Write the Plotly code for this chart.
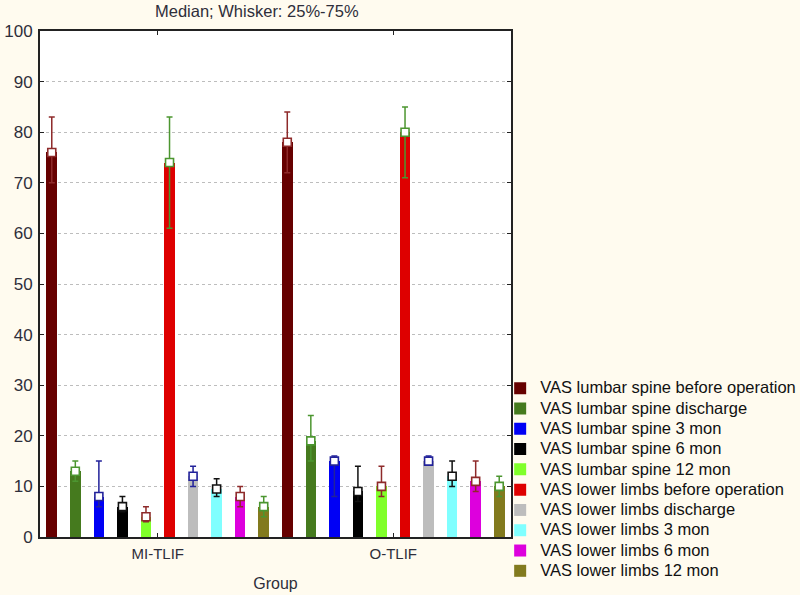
import plotly.graph_objects as go

# ==================== DATA ====================
GROUPS = ["MI-TLIF", "O-TLIF"]

SERIES = [
    "VAS lumbar spine before operation",
    "VAS lumbar spine discharge",
    "VAS lumbar spine 3 mon",
    "VAS lumbar spine 6 mon",
    "VAS lumbar spine 12 mon",
    "VAS lower limbs before operation",
    "VAS lower limbs discharge",
    "VAS lower limbs 3 mon",
    "VAS lower limbs 6 mon",
    "VAS lower limbs 12 mon",
]

# medians per series: [MI-TLIF, O-TLIF]
MEDIAN = [
    [76, 78], [13, 19], [8, 15], [6, 9], [4, 10],
    [74, 80], [12, 15], [9.5, 12], [8, 11], [6, 10],
]
Q25 = [
    [70, 72], [11, 15], [6, 8], [5, 7], [3, 8],
    [61, 71], [10, 14.5], [8, 10], [6, 9], [4, 8],
]
Q75 = [
    [83, 84], [15, 24], [15, 16], [8, 14], [6, 14],
    [83, 85], [14, 16], [11.5, 15], [10, 15], [8, 12],
]

BAR_COLORS = [
    "#660000", "#457A1E", "#0000F5", "#000000", "#80FF2A",
    "#DE0000", "#BDBDBD", "#80FFFF", "#DD00DD", "#827A1E",
]
WHISKER_COLORS = [
    "#8E2A2A", "#4C9630", "#22229A", "#111111", "#8E2A2A",
    "#4C9630", "#22229A", "#111111", "#8E2A2A", "#4C9630",
]

# ==================== THEME ====================
PAPER_BG = "#FFFBEF"
TEXT_COLOR = "#2E2E3A"
FONT = "Arial, Liberation Sans, sans-serif"

SLOT = 0.1
BAR_WIDTH = 0.045

fig = go.Figure()

for i, name in enumerate(SERIES):
    xs = [g + (i - 4.5) * SLOT for g in range(len(GROUPS))]
    fig.add_trace(go.Bar(
        x=xs,
        y=MEDIAN[i],
        width=BAR_WIDTH,
        # larger text inside a compact legend row
        name=f"<span style='font-size:16.5px'>{name}</span>",
        marker=dict(color=BAR_COLORS[i], line=dict(width=0)),
        legendgroup=name,
    ))

for i, name in enumerate(SERIES):
    xs = [g + (i - 4.5) * SLOT for g in range(len(GROUPS))]
    plus = [hi - m for hi, m in zip(Q75[i], MEDIAN[i])]
    minus = [m - lo for m, lo in zip(MEDIAN[i], Q25[i])]
    fig.add_trace(go.Scatter(
        x=xs,
        y=MEDIAN[i],
        mode="markers",
        name=name,
        legendgroup=name,
        showlegend=False,
        marker=dict(symbol="square", size=8, color="white",
                    line=dict(color=WHISKER_COLORS[i], width=1.6)),
        error_y=dict(type="data", symmetric=False, array=plus, arrayminus=minus,
                     color=WHISKER_COLORS[i], thickness=1.5, width=3),
    ))

fig.update_layout(
    width=800,
    height=595,
    paper_bgcolor=PAPER_BG,
    plot_bgcolor="white",
    font=dict(family=FONT, color=TEXT_COLOR, size=14),
    title=dict(text="Median; Whisker: 25%-75%", x=0.321, xanchor="center",
               y=0.9815, yanchor="middle", font=dict(size=16.5, color=TEXT_COLOR)),
    margin=dict(l=40, r=289, t=31, b=58, autoexpand=False),
    showlegend=True,
    legend=dict(x=0.977, xanchor="left", y=0.324, yanchor="top",
                bgcolor="rgba(0,0,0,0)", font=dict(size=13.3, color="#111111"),
                tracegroupgap=0),
    bargap=0,
)

fig.update_xaxes(
    range=[-0.5, 1.5],
    tickvals=list(range(len(GROUPS))),
    ticktext=GROUPS,
    ticks="inside", ticklen=4, tickcolor="#222222",
    showline=True, linecolor="#222222", linewidth=2, mirror="allticks",
    showgrid=False, zeroline=False,
    tickfont=dict(size=15, color=TEXT_COLOR),
    ticklabelstandoff=2,
    title=dict(text="Group", font=dict(size=16, color=TEXT_COLOR), standoff=17),
)

fig.update_yaxes(
    range=[0, 100],
    dtick=10,
    ticks="inside", ticklen=4, tickcolor="#222222",
    showline=True, linecolor="#222222", linewidth=2, mirror="allticks",
    showgrid=True, gridcolor="#BDBDBD", griddash="dot", gridwidth=1,
    zeroline=False,
    tickfont=dict(size=17, color=TEXT_COLOR),
    ticklabelstandoff=2,
)

fig.write_html("out.html", config={"displayModeBar": False},
               post_script="document.body.style.margin='0';")
